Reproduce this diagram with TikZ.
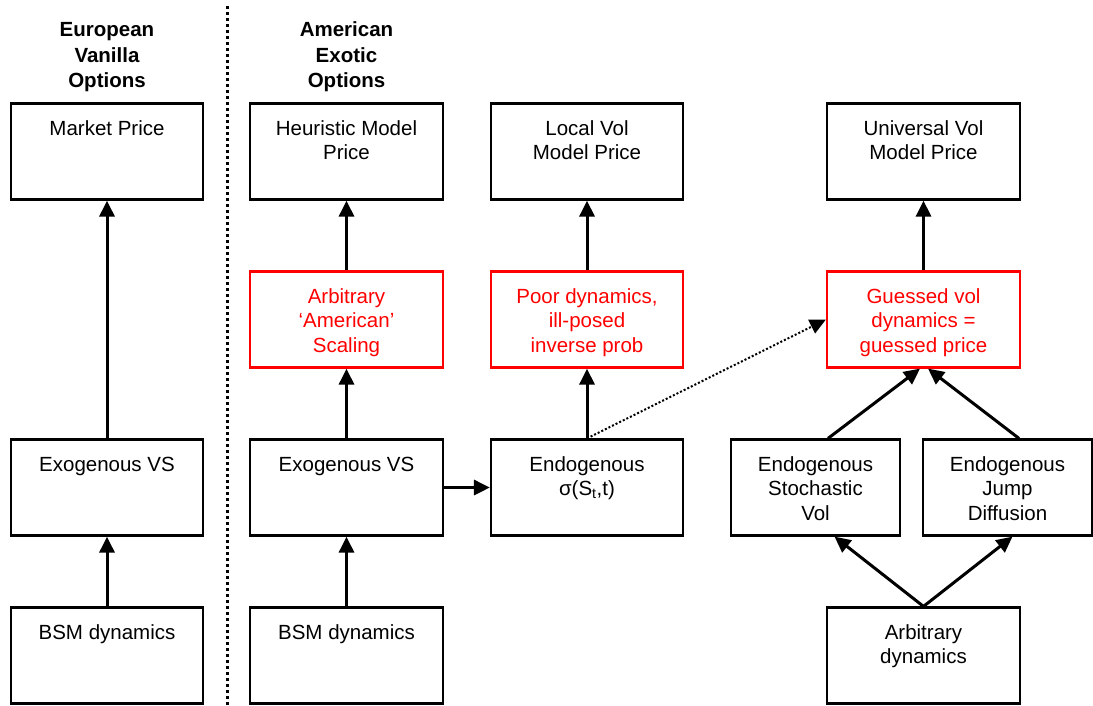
\documentclass[tikz,border=0pt]{standalone}
\usepackage{fontspec}
\setmainfont{Liberation Sans}
\usetikzlibrary{arrows.meta}

% text block inside a box: top aligned, first baseline fixed below the top edge
\newcommand{\boxtext}[2]{\parbox[c][96pt][t]{#1}{\centering\rule{0pt}{31.5pt}#2}}
\newcommand{\headtext}[1]{\parbox[t]{200pt}{\centering\rule{0pt}{36.5pt}#1}}

\begin{document}
\begin{tikzpicture}[x=1pt,y=-1pt,
  box/.style={draw=black, line width=2.2pt, inner sep=0pt, minimum height=96pt,
    font=\fontsize{20.5}{24.5}\selectfont},
  redbox/.style={box, draw=red, text=red},
  head/.style={anchor=north, inner sep=0pt,
    font=\fontsize{20.5}{25.5}\selectfont\bfseries},
  link/.style={line width=3pt, -{Triangle[length=16pt,width=15pt]}},
  hint/.style={line width=2pt, dash pattern=on 2pt off 2pt,
    -{Triangle[length=16pt,width=15pt]}},
]
\useasboundingbox (0,0) rectangle (1093,705);

% column headings and the divider between the two option families
\node[head] (heu) at (107,0) {\headtext{European\\Vanilla\\Options}};
\node[head] (hea) at (346.5,0) {\headtext{American\\Exotic\\Options}};
\coordinate (divtop) at (227,6);
\coordinate (divbot) at (227,705);
\draw[line width=3pt, dash pattern=on 3pt off 3pt] (divtop) -- (divbot);

% European vanilla column
\node[box, minimum width=192pt] (mp) at (107,151.5) {\boxtext{182pt}{Market Price}};
\node[box, minimum width=192pt] (ev1) at (107,487.5) {\boxtext{182pt}{Exogenous VS}};
\node[box, minimum width=192pt] (bsm1) at (107,655.5) {\boxtext{182pt}{BSM dynamics}};

% heuristic column
\node[box, minimum width=193pt] (hmp) at (346.5,151.5) {\boxtext{183pt}{Heuristic Model\\Price}};
\node[redbox, minimum width=193pt] (ams) at (346.5,319.5) {\boxtext{183pt}{Arbitrary\\‘American’\\Scaling}};
\node[box, minimum width=193pt] (ev2) at (346.5,487.5) {\boxtext{183pt}{Exogenous VS}};
\node[box, minimum width=193pt] (bsm2) at (346.5,655.5) {\boxtext{183pt}{BSM dynamics}};

% local vol column
\node[box, minimum width=192pt] (lvp) at (587,151.5) {\boxtext{182pt}{Local Vol\\Model Price}};
\node[redbox, minimum width=192pt] (pdy) at (587,319.5) {\boxtext{182pt}{Poor dynamics,\\ill-posed\\inverse prob}};
\node[box, minimum width=192pt] (esig) at (587,487.5) {\boxtext{182pt}{Endogenous\\σ(S\textsubscript{t},t)}};

% universal vol column
\node[box, minimum width=193pt] (uvp) at (923.5,151.5) {\boxtext{183pt}{Universal Vol\\Model Price}};
\node[redbox, minimum width=193pt] (gvd) at (923.5,319.5) {\boxtext{183pt}{Guessed vol\\dynamics =\\guessed price}};
\node[box, minimum width=169pt] (esv) at (815.5,487.5) {\boxtext{159pt}{Endogenous\\Stochastic\\Vol}};
\node[box, minimum width=169pt] (ejd) at (1007.5,487.5) {\boxtext{159pt}{Endogenous\\Jump\\Diffusion}};
\node[box, minimum width=193pt] (arb) at (923.5,655.5) {\boxtext{183pt}{Arbitrary\\dynamics}};

% connectors
\draw[link] (bsm1) -- (ev1);
\draw[link] (ev1) -- (mp);

\draw[link] (bsm2) -- (ev2);
\draw[link] (ev2) -- (ams);
\draw[link] (ams) -- (hmp);
\draw[link] (ev2) -- (esig);

\draw[link] (esig) -- (pdy);
\draw[link] (pdy) -- (lvp);
\draw[hint] (esig.north) -- (gvd.west);

\draw[link] (gvd) -- (uvp);
\coordinate (svtop) at ([xshift=12.5pt]esv.north);
\coordinate (jdtop) at ([xshift=11.5pt]ejd.north);
\coordinate (gvl) at ([xshift=-3.5pt]gvd.south);
\coordinate (gvr) at ([xshift=4.5pt]gvd.south);
\draw[link] (svtop) -- (gvl);
\draw[link] (jdtop) -- (gvr);
\coordinate (svbot) at ([xshift=19pt]esv.south);
\coordinate (jdbot) at ([xshift=5pt]ejd.south);
\draw[link] (arb.north) -- (svbot);
\draw[link] (arb.north) -- (jdbot);
\end{tikzpicture}
\end{document}
